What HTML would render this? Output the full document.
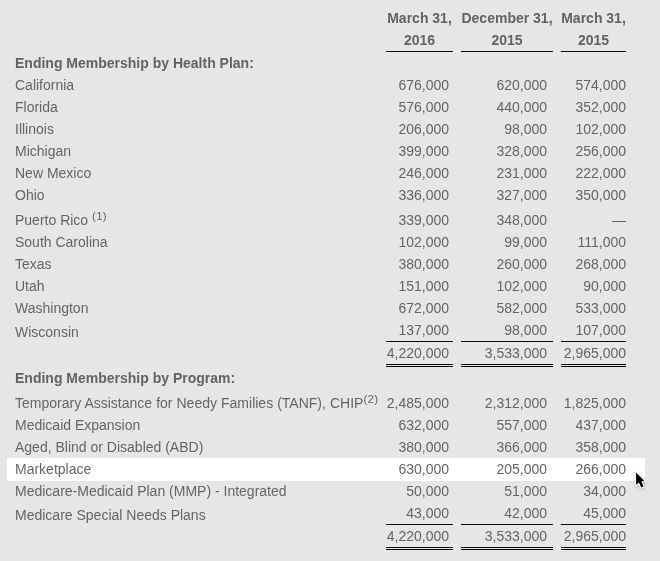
<!DOCTYPE html>
<html><head><meta charset="utf-8"><title>Membership</title>
<style>
html,body{margin:0;padding:0;}
body{width:660px;height:561px;background:#e6e6e6;position:relative;overflow:hidden;
font-family:"Liberation Sans",Arial,Helvetica,sans-serif;font-size:14px;color:#646569;}
.t{position:absolute;white-space:nowrap;line-height:16px;height:16px;}
.l{left:15px;}
.n{text-align:right;}
.c1{right:211px;}
.c2{right:113px;}
.c3{right:34px;}
.b{font-weight:bold;color:#626367;}
.h{text-align:center;font-weight:bold;color:#626367;}
.ln{position:absolute;height:1px;background:#0c0c0c;}
sup{font-size:11.5px;line-height:0;vertical-align:baseline;position:relative;top:-5px;letter-spacing:0.3px;}
.hl{position:absolute;left:7px;top:458px;width:638px;height:23px;background:#fff;}
</style></head><body>
<div class="hl"></div>

<div class="t h" style="top:10px;left:386px;width:67px;">March 31,</div>
<div class="t h" style="top:32px;left:386px;width:67px;">2016</div>
<div class="t h" style="top:10px;left:461px;width:92px;">December 31,</div>
<div class="t h" style="top:32px;left:461px;width:92px;">2015</div>
<div class="t h" style="top:10px;left:561px;width:65px;">March 31,</div>
<div class="t h" style="top:32px;left:561px;width:65px;">2015</div>
<div class="ln" style="left:386px;top:51px;width:67px"></div>
<div class="ln" style="left:386px;top:341px;width:67px"></div>
<div class="ln" style="left:386px;top:364px;width:67px"></div>
<div class="ln" style="left:386px;top:366px;width:67px"></div>
<div class="ln" style="left:386px;top:524px;width:67px"></div>
<div class="ln" style="left:386px;top:547px;width:67px"></div>
<div class="ln" style="left:386px;top:549px;width:67px"></div>
<div class="ln" style="left:461px;top:51px;width:92px"></div>
<div class="ln" style="left:461px;top:341px;width:92px"></div>
<div class="ln" style="left:461px;top:364px;width:92px"></div>
<div class="ln" style="left:461px;top:366px;width:92px"></div>
<div class="ln" style="left:461px;top:524px;width:92px"></div>
<div class="ln" style="left:461px;top:547px;width:92px"></div>
<div class="ln" style="left:461px;top:549px;width:92px"></div>
<div class="ln" style="left:561px;top:51px;width:65px"></div>
<div class="ln" style="left:561px;top:341px;width:65px"></div>
<div class="ln" style="left:561px;top:364px;width:65px"></div>
<div class="ln" style="left:561px;top:366px;width:65px"></div>
<div class="ln" style="left:561px;top:524px;width:65px"></div>
<div class="ln" style="left:561px;top:547px;width:65px"></div>
<div class="ln" style="left:561px;top:549px;width:65px"></div>
<div class="t l b" style="top:55px;">Ending Membership by Health Plan:</div>
<div class="t l b" style="top:370px;">Ending Membership by Program:</div>
<div class="t l" style="top:77px;">California</div>
<div class="t n c1" style="top:77px;">676,000</div>
<div class="t n c2" style="top:77px;">620,000</div>
<div class="t n c3" style="top:77px;">574,000</div>
<div class="t l" style="top:99px;">Florida</div>
<div class="t n c1" style="top:99px;">576,000</div>
<div class="t n c2" style="top:99px;">440,000</div>
<div class="t n c3" style="top:99px;">352,000</div>
<div class="t l" style="top:121px;">Illinois</div>
<div class="t n c1" style="top:121px;">206,000</div>
<div class="t n c2" style="top:121px;">98,000</div>
<div class="t n c3" style="top:121px;">102,000</div>
<div class="t l" style="top:143px;">Michigan</div>
<div class="t n c1" style="top:143px;">399,000</div>
<div class="t n c2" style="top:143px;">328,000</div>
<div class="t n c3" style="top:143px;">256,000</div>
<div class="t l" style="top:165px;">New Mexico</div>
<div class="t n c1" style="top:165px;">246,000</div>
<div class="t n c2" style="top:165px;">231,000</div>
<div class="t n c3" style="top:165px;">222,000</div>
<div class="t l" style="top:187px;">Ohio</div>
<div class="t n c1" style="top:187px;">336,000</div>
<div class="t n c2" style="top:187px;">327,000</div>
<div class="t n c3" style="top:187px;">350,000</div>
<div class="t l" style="top:212px;">Puerto Rico <sup>(1)</sup></div>
<div class="t n c1" style="top:212px;">339,000</div>
<div class="t n c2" style="top:212px;">348,000</div>
<div class="t n c3" style="top:212px;">—</div>
<div class="t l" style="top:234px;">South Carolina</div>
<div class="t n c1" style="top:234px;">102,000</div>
<div class="t n c2" style="top:234px;">99,000</div>
<div class="t n c3" style="top:234px;">111,000</div>
<div class="t l" style="top:256px;">Texas</div>
<div class="t n c1" style="top:256px;">380,000</div>
<div class="t n c2" style="top:256px;">260,000</div>
<div class="t n c3" style="top:256px;">268,000</div>
<div class="t l" style="top:278px;">Utah</div>
<div class="t n c1" style="top:278px;">151,000</div>
<div class="t n c2" style="top:278px;">102,000</div>
<div class="t n c3" style="top:278px;">90,000</div>
<div class="t l" style="top:300px;">Washington</div>
<div class="t n c1" style="top:300px;">672,000</div>
<div class="t n c2" style="top:300px;">582,000</div>
<div class="t n c3" style="top:300px;">533,000</div>
<div class="t l" style="top:324px;">Wisconsin</div>
<div class="t n c1" style="top:322px;">137,000</div>
<div class="t n c2" style="top:322px;">98,000</div>
<div class="t n c3" style="top:322px;">107,000</div>
<div class="t n c1" style="top:345px;">4,220,000</div>
<div class="t n c2" style="top:345px;">3,533,000</div>
<div class="t n c3" style="top:345px;">2,965,000</div>
<div class="t l" style="top:395px;word-spacing:0.15px;">Temporary Assistance for Needy Families (TANF), CHIP<sup>(2)</sup></div>
<div class="t n c1" style="top:395px;">2,485,000</div>
<div class="t n c2" style="top:395px;">2,312,000</div>
<div class="t n c3" style="top:395px;">1,825,000</div>
<div class="t l" style="top:417px;">Medicaid Expansion</div>
<div class="t n c1" style="top:417px;">632,000</div>
<div class="t n c2" style="top:417px;">557,000</div>
<div class="t n c3" style="top:417px;">437,000</div>
<div class="t l" style="top:439px;">Aged, Blind or Disabled (ABD)</div>
<div class="t n c1" style="top:439px;">380,000</div>
<div class="t n c2" style="top:439px;">366,000</div>
<div class="t n c3" style="top:439px;">358,000</div>
<div class="t l" style="top:461px;">Marketplace</div>
<div class="t n c1" style="top:461px;">630,000</div>
<div class="t n c2" style="top:461px;">205,000</div>
<div class="t n c3" style="top:461px;">266,000</div>
<div class="t l" style="top:483px;">Medicare-Medicaid Plan (MMP) - Integrated</div>
<div class="t n c1" style="top:483px;">50,000</div>
<div class="t n c2" style="top:483px;">51,000</div>
<div class="t n c3" style="top:483px;">34,000</div>
<div class="t l" style="top:507px;">Medicare Special Needs Plans</div>
<div class="t n c1" style="top:505px;">43,000</div>
<div class="t n c2" style="top:505px;">42,000</div>
<div class="t n c3" style="top:505px;">45,000</div>
<div class="t n c1" style="top:528px;">4,220,000</div>
<div class="t n c2" style="top:528px;">3,533,000</div>
<div class="t n c3" style="top:528px;">2,965,000</div>
<svg style="position:absolute;left:633px;top:470px;overflow:visible" width="16" height="22" viewBox="0 0 16 22"><path d="M3.1 2.6 L3.1 15 L5.9 12.5 L8.3 17.5 L10.6 16.4 L8.3 11.5 L11.4 11 Z" fill="#000" stroke="#fff" stroke-width="2.4" stroke-linejoin="round" style="paint-order:stroke;filter:drop-shadow(0 1px 1px rgba(0,0,0,0.25))"/></svg>
</body></html>
